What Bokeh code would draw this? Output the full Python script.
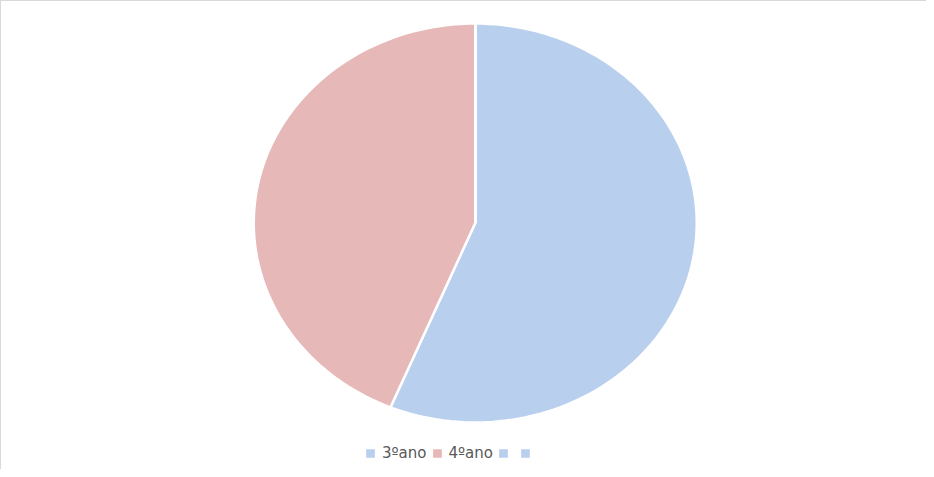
import numpy as np
from bokeh.plotting import figure
from bokeh.models import ColumnDataSource, Legend, LegendItem, Range1d
from bokeh.embed import file_html
from bokeh.resources import INLINE

# ---- data ----
categories = ["3ºano", "4ºano", "", ""]
values = [9, 7, 0, 0]
colors = ["#B9CFEE", "#E6B8B7", "#B9CFEE", "#B9CFEE"]

W, H = 926, 469
# pie geometry in screen pixels (canvas coords)
cx_px, cy_px, rx_px, ry_px = 473.75, 221.5, 221.5, 199.5

p = figure(width=W, height=H, output_backend="svg", toolbar_location=None,
           x_axis_type=None, y_axis_type=None, min_border=0,
           x_range=Range1d(-cx_px / rx_px, (W - cx_px) / rx_px),
           y_range=Range1d(-(H - cy_px) / ry_px, cy_px / ry_px))
p.grid.visible = False
p.outline_line_color = None
p.background_fill_color = "white"
p.border_fill_color = "white"
p.styles = {"border-top": "1px solid #D9D9D9",
            "border-left": "1px solid #D9D9D9"}

total = float(sum(values))
xs, ys = [], []
start = np.pi / 2
for v in values:
    sweep = 2 * np.pi * v / total
    n = max(2, int(200 * v / total) + 2)
    ang = np.linspace(start, start - sweep, n)
    xs.append([0.0] + list(np.cos(ang)) + [0.0])
    ys.append([0.0] + list(np.sin(ang)) + [0.0])
    start -= sweep

src = ColumnDataSource(dict(xs=xs, ys=ys, color=colors, cat=categories))
r = p.patches("xs", "ys", source=src, fill_color="color", line_color="white",
              line_width=2.5)

items = [LegendItem(label=(c if c else " "), renderers=[r], index=i)
         for i, c in enumerate(categories)]
legend = Legend(items=items, orientation="horizontal", location=(362, 8),
                glyph_width=14, glyph_height=14, label_standoff=5, spacing=3,
                padding=0, margin=0, label_width=0,
                label_text_font="DejaVu Sans", label_text_font_size="15px",
                label_text_color="#595959", border_line_color=None,
                background_fill_alpha=0)
p.add_layout(legend, "center")

open("out.html", "w").write(file_html(p, INLINE))
